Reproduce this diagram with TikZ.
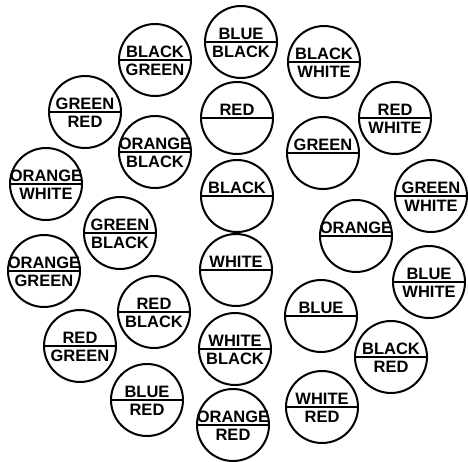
\documentclass[tikz,border=0pt]{standalone}
\usepackage{fontspec}
\setmainfont{Liberation Sans}
\begin{document}
\begin{tikzpicture}[x=1pt,y=-1pt,
  disc/.style={circle,draw=black,line width=2pt,minimum size=72pt,inner sep=0pt},
  divider/.style={line width=2pt},
  wordtop/.style={anchor=base,inner sep=0pt,font=\fontsize{16.5}{18}\selectfont\bfseries},
  wordbot/.style={anchor=north,inner sep=0pt,font=\fontsize{16.5}{18}\selectfont\bfseries}]
\useasboundingbox (0,0) rectangle (468,461);
\newcommand\wiredisc[5]{%
  \node[disc] (#1) at (#2,#3) {};
  \draw[divider] (#1.west) -- (#1.east);
  \node[wordtop] (#1-t) at ([yshift=2.5pt]#1.center) {#4};
  \node[wordbot] (#1-b) at ([yshift=-4pt]#1.center) {#5};
}
\wiredisc{d1}{155}{60}{BLACK}{GREEN}
\wiredisc{d2}{241}{42}{BLUE}{BLACK}
\wiredisc{d3}{324}{62}{BLACK}{WHITE}
\wiredisc{d4}{85}{112}{GREEN}{RED}
\wiredisc{d5}{237}{118}{RED}{}
\wiredisc{d6}{395}{118}{RED}{WHITE}
\wiredisc{d7}{155}{152}{ORANGE}{BLACK}
\wiredisc{d8}{323}{153}{GREEN}{}
\wiredisc{d9}{46}{184}{ORANGE}{WHITE}
\wiredisc{d10}{237}{196}{BLACK}{}
\wiredisc{d11}{431}{196}{GREEN}{WHITE}
\wiredisc{d12}{120}{233}{GREEN}{BLACK}
\wiredisc{d13}{356}{236}{ORANGE}{}
\wiredisc{d14}{236}{270}{WHITE}{}
\wiredisc{d15}{44}{271}{ORANGE}{GREEN}
\wiredisc{d16}{429}{282}{BLUE}{WHITE}
\wiredisc{d17}{154}{312}{RED}{BLACK}
\wiredisc{d18}{321}{316}{BLUE}{}
\wiredisc{d19}{80}{346}{RED}{GREEN}
\wiredisc{d20}{235}{349}{WHITE}{BLACK}
\wiredisc{d21}{391}{357}{BLACK}{RED}
\wiredisc{d22}{147}{400}{BLUE}{RED}
\wiredisc{d23}{322}{407}{WHITE}{RED}
\wiredisc{d24}{233}{425}{ORANGE}{RED}
\end{tikzpicture}
\end{document}
